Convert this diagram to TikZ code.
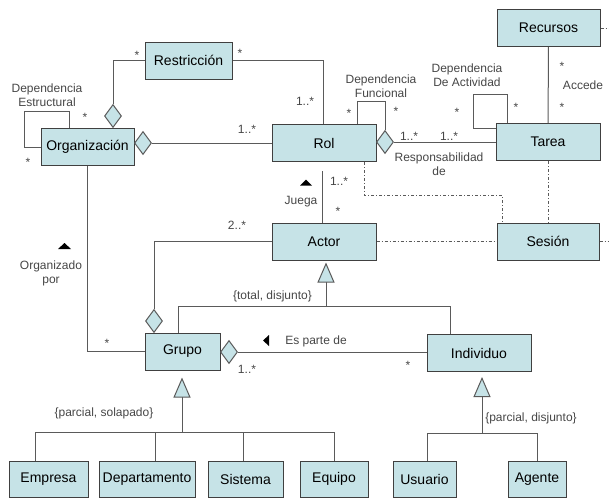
\documentclass[tikz,border=0pt]{standalone}
\usepackage{fontspec}
\setmainfont{Liberation Sans}
\usetikzlibrary{arrows.meta,shapes.geometric}
\definecolor{cfondo}{RGB}{198,227,231}
\definecolor{cborde}{RGB}{64,64,64}
\definecolor{clinea}{RGB}{90,90,90}
\definecolor{ctexto}{RGB}{70,70,70}
\tikzset{
  clase/.style={draw=cborde, fill=cfondo, line width=1pt, minimum height=37pt,
    inner sep=0pt, font=\fontsize{14}{16}\selectfont},
  agreg/.style={diamond, draw=clinea, fill=cfondo, line width=1pt,
    minimum width=17pt, minimum height=23pt, inner sep=0pt},
  etq/.style={inner sep=0pt, text=ctexto, font=\fontsize{12}{14}\selectfont, align=center},
  enlace/.style={draw=clinea, line width=1pt},
  traza/.style={enlace, line width=0.8pt, dash pattern=on 3pt off 2pt on 1pt off 2pt},
  gen/.style={enlace, -{Triangle[width=17pt,length=20pt,fill=cfondo]}},
}
\begin{document}
\begin{tikzpicture}[x=1pt, y=-1pt]
\useasboundingbox (0,0) rectangle (609,499);
% clases
\foreach \n/\t/\x/\y/\w in {Restriccion/Restricción/188.5/60.5/87,
    Organizacion/Organización/87.5/147/93, Rol/Rol/324/143/104,
    Tarea/Tarea/548/142/104, Recursos/Recursos/548.5/28/103,
    Actor/Actor/324/241.5/104, Sesion/Sesión/548/241.5/102,
    Grupo/Grupo/182.5/351.5/75, Individuo/Individuo/479/353/104}
  {\node[clase, minimum width=\w pt] (\n) at (\x,\y) {\t};}
\foreach \n/\x/\w in {Empresa/48.5/79, Departamento/147/96, Sistema/245.5/75,
    Equipo/334/68, Usuario/424.5/63, Agente/537/58}
  {\node[clase, minimum width=\w pt, minimum height=36pt] (\n) at (\x,479) {\n};}
% agregaciones
\node[agreg, anchor=south] (dOrgN) at (113,128) {};
\node[agreg, anchor=west] (dOrgE) at (134,143) {};
\node[agreg, anchor=west] (dRolE) at (376,142) {};
\node[agreg, anchor=south] (dGruN) at (154,333) {};
\node[agreg, anchor=west] (dGruE) at (220,352) {};
% asociaciones
\draw[enlace] (Restriccion.west) -| (dOrgN.north);
\draw[enlace] (Restriccion.east) -| ([xshift=-1pt]Rol.north);
\draw[enlace] (dOrgE.east) -- (dOrgE.east -| Rol.west);
\draw[enlace] ([xshift=-18.5pt]Organizacion.north) |- (24,111) |- (Organizacion.west);
\draw[enlace] (Organizacion.south) |- (Grupo.west);
\draw[enlace] (dGruN.north) |- (Actor.west);
\draw[enlace] (dGruE.east) -- (dGruE.east -| Individuo.west);
\draw[enlace] (dRolE.east) -- (dRolE.east -| Tarea.west);
\draw[enlace] ([xshift=33pt]Rol.north) |- (dRolE.north |- 0,101) -- (dRolE.north);
\draw[enlace] ([yshift=14pt]Tarea.west) -| (473,94) -| ([xshift=-41pt]Tarea.north);
\draw[enlace] (Recursos) -- (Tarea);
\draw[enlace] ([xshift=-2pt,yshift=-9pt]Rol.south) -- ([xshift=-2pt]Actor.north);
% trazas
\coordinate (bordeR) at (609,28);
\coordinate (bordeS) at (609,241.5);
\draw[traza] ([xshift=40pt]Rol.south) |- (502,195) -- ([xshift=-46pt]Sesion.north);
\draw[traza] (Tarea.south) -- (Sesion.north);
\draw[traza] (Actor.east) -- (Sesion.west);
\draw[traza] (Sesion.east) -- (bordeS);
\draw[traza] (Recursos.east) -- (bordeR);
% generalizaciones
\draw[enlace] (Grupo.north -| 178,0) |- (450,306) -- (450,306 |- Individuo.north);
\draw[gen, shorten >=2pt] (326,306) -- (326,306 |- Actor.south);
\draw[enlace] (35,432) -- (334,432);
\foreach \c/\x in {Empresa/35, Departamento/155, Sistema/243, Equipo/334}
  {\draw[enlace] (\x,432) -- (\x,432 |- \c.north);}
\draw[gen, shorten >=7pt] (182,432) -- (182,432 |- Grupo.south);
\draw[enlace] (427,433) -- (537,433);
\foreach \c/\x in {Usuario/427, Agente/537}
  {\draw[enlace] (\x,433) -- (\x,433 |- \c.north);}
\draw[gen, shorten >=5pt] (482,433) -- (482,433 |- Individuo.south);
% multiplicidades
\foreach \n/\t/\x/\y in {m1/*/137/55, m2/*/240/53, m3/1..*/305/101, m4/1..*/247/129,
    m5/*/85/117, m6/*/28/162, m7/*/349/113, m8/*/396/111, m9/1..*/409/136,
    m10/1..*/449/136, m11/*/457/112, m12/*/516/107, m13/*/562/66, m14/*/562/107,
    m15/1..*/339/181, m16/*/338/211, m17/2..*/237/225, m18/*/107/343,
    m19/1..*/247/369, m20/*/408/365}
  {\node[etq] (\n) at (\x,\y) {\t};}
% nombres de asociaciones
\node[etq] (depEst) at (47,95) {Dependencia\\Estructural};
\node[etq] (depFun) at (381,86) {Dependencia\\Funcional};
\node[etq] (depAct) at (467,75) {Dependencia\\De Actividad};
\node[etq] (accede) at (583,85) {Accede};
\node[etq] (respon) at (439,164) {Responsabilidad\\de};
\node[etq] (juega) at (301,202) {Juega};
\node[etq] (organ) at (51,273) {Organizado\\por};
\node[etq] (esParte) at (316,341) {Es parte de};
\node[etq] (totDis) at (272.5,296) {\{total, disjunto\}};
\node[etq] (parSol) at (104,413) {\{parcial, solapado\}};
\node[etq] (parDis) at (531,418) {\{parcial, disjunto\}};
% sentido de lectura
\fill (300,185.5) -- (312,185.5) -- (306,179.5) -- cycle;
\fill (58,249) -- (71,249) -- (64.5,243) -- cycle;
\fill (263,340.5) -- (269,335) -- (269,346) -- cycle;
\end{tikzpicture}
\end{document}
